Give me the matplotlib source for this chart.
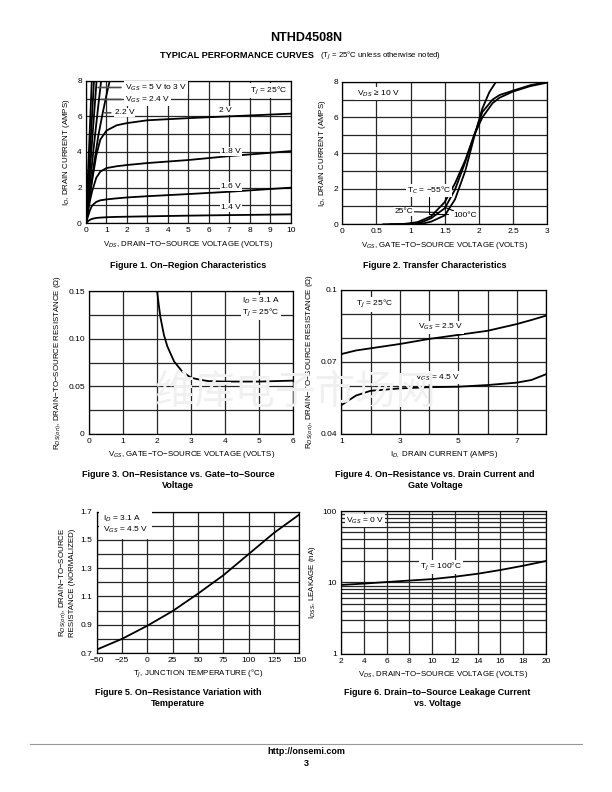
import numpy as np
import matplotlib.pyplot as plt
from matplotlib.ticker import MultipleLocator, FixedLocator, NullFormatter

plt.rcParams['font.family'] = ['Liberation Sans', 'DejaVu Sans']
plt.rcParams['axes.unicode_minus'] = True

# ---- data ----
# Fig 1: on-region characteristics
vds_sat = [0, 0.1, 0.2, 0.3, 0.5, 0.7, 1.0, 1.5, 2, 3, 5, 7, 10]
id_14 = [0, 0.12, 0.2, 0.25, 0.3, 0.32, 0.34, 0.36, 0.37, 0.39, 0.43, 0.46, 0.5]
id_16 = [0, 0.4, 0.75, 1.0, 1.2, 1.29, 1.34, 1.4, 1.45, 1.52, 1.64, 1.77, 2.0]
id_18 = [0, 0.7, 1.3, 1.8, 2.55, 2.9, 3.1, 3.2, 3.27, 3.38, 3.55, 3.77, 4.05]
id_20 = [0, 0.8, 1.6, 2.4, 3.8, 4.7, 5.2, 5.5, 5.62, 5.78, 5.9, 6.0, 6.15]
vds_22 = [0, 0.2, 0.4, 0.6, 0.8, 1.0, 1.2]
id_22 = [0, 1.7, 3.4, 4.9, 6.1, 7.2, 8.2]
vds_24 = [0, 0.2, 0.4, 0.6, 0.75]
id_24 = [0, 2.3, 4.5, 6.6, 8.1]
vds_30 = [0, 0.53]
id_30 = [0, 8.2]
vds_40 = [0, 0.4]
id_40 = [0, 8.2]
vds_50 = [0, 0.29]
id_50 = [0, 8.2]

# Fig 2: transfer characteristics
vgs_100 = [0.6, 0.9, 1.1, 1.3, 1.5, 1.65, 1.8, 1.93, 2.05, 2.2, 2.3, 2.5, 2.75, 3.0]
id_100 = [0, 0.02, 0.12, 0.45, 1.25, 2.3, 3.6, 5.0, 6.0, 6.8, 7.1, 7.45, 7.75, 7.95]
vgs_25 = [0.7, 1.0, 1.15, 1.3, 1.5, 1.65, 1.8, 1.93, 2.05, 2.2, 2.3, 2.5, 2.75, 3.0]
id_25 = [0, 0.02, 0.1, 0.34, 0.9, 1.95, 3.5, 5.0, 6.3, 7.0, 7.25, 7.5, 7.8, 7.98]
vgs_m55 = [0.9, 1.15, 1.3, 1.5, 1.65, 1.8, 1.93, 2.05, 2.15, 2.25]
id_m55 = [0, 0.02, 0.15, 0.5, 1.4, 3.0, 4.9, 6.5, 7.4, 8.0]

# Fig 3: Rds(on) vs Vgs
vgs_r = [2.0, 2.05, 2.1, 2.2, 2.3, 2.5, 2.75, 3.0, 3.25, 3.5, 4, 5, 6]
rds_vgs = [0.15, 0.135, 0.122, 0.104, 0.092, 0.076, 0.065, 0.059, 0.057, 0.0555, 0.055, 0.055, 0.056]

# Fig 4: Rds(on) vs Id
id_r = [1, 1.5, 2, 3, 4, 5, 6, 7, 7.5, 8]
rds_25v = [0.0733, 0.0748, 0.0757, 0.0775, 0.0796, 0.0813, 0.083, 0.0858, 0.0875, 0.0893]
rds_45v = [0.052, 0.056, 0.058, 0.059, 0.0595, 0.0597, 0.0604, 0.0614, 0.0625, 0.0649]

# Fig 5: normalized Rds(on) vs temperature
tj = [-50, -25, 0, 25, 50, 75, 100, 125, 150]
rds_norm = [0.724, 0.80, 0.893, 0.997, 1.12, 1.25, 1.40, 1.55, 1.68]

# Fig 6: leakage vs Vds
vds_l = [2, 4, 6, 8, 10, 12, 14, 16, 18, 20]
idss = [9.2, 9.6, 10.1, 10.6, 11.1, 12.0, 13.2, 14.9, 17.1, 19.9]

W, H = 612, 792
fig = plt.figure(figsize=(6.12, 7.92), dpi=100)

FS = 6      # annotation / tick text
FL = 5.7    # axis labels


def add_ax(x0, y0, x1, y1):
    ax = fig.add_axes([x0 / W, 1 - y1 / H, (x1 - x0) / W, (y1 - y0) / H])
    ax.patch.set_alpha(0)
    return ax


def style(ax):
    ax.set_axisbelow(True)
    ax.grid(True, which='both', color='0.15', lw=0.9)
    ax.tick_params(which='both', length=0, labelsize=FS, pad=3)
    for s in ax.spines.values():
        s.set_linewidth(0.9)


def label(ax, x, y, s, **kw):
    ax.text(x, y, s, fontsize=FS, ha='center', va='center', zorder=5,
            bbox=dict(facecolor='white', edgecolor='none', pad=0.8), **kw)


def fy(y):
    return 1 - y / H


lw = 1.3
bbox = dict(facecolor='white', edgecolor='none', pad=0.8)

# watermark (behind the transparent axes)
fig.text(295 / W, fy(392), '维库电子市场网', fontsize=29, color='#f0f0f0',
         family=['Noto Sans CJK SC'], weight='light', ha='center', va='center', zorder=0)

# ---------- Figure 1 ----------
ax1 = add_ax(86, 80.7, 290.7, 223.3)
for ids in [id_14, id_16, id_18, id_20]:
    ax1.plot(vds_sat, ids, color='k', lw=lw)
for v, i in [(vds_22, id_22), (vds_24, id_24), (vds_30, id_30), (vds_40, id_40), (vds_50, id_50)]:
    ax1.plot(v, i, color='k', lw=lw)
ax1.set_xlim(0, 10)
ax1.set_ylim(0, 8)
ax1.xaxis.set_major_locator(MultipleLocator(1))
ax1.yaxis.set_major_locator(MultipleLocator(2))
ax1.yaxis.set_minor_locator(MultipleLocator(1))
style(ax1)
ax1.annotate('V$_{GS}$ = 5 V to 3 V', xy=(0.45, 7.62), xytext=(1.9, 7.62), fontsize=FS,
             va='center', ha='left', bbox=bbox, zorder=5,
             arrowprops=dict(arrowstyle='-', color='0.3', lw=1.2))
ax1.annotate('V$_{GS}$ = 2.4 V', xy=(0.62, 6.95), xytext=(1.9, 6.95), fontsize=FS,
             va='center', ha='left', bbox=bbox, zorder=5,
             arrowprops=dict(arrowstyle='-', color='0.3', lw=1.2))
ax1.annotate('2.2 V', xy=(0.78, 6.2), xytext=(1.4, 6.2), fontsize=FS,
             va='center', ha='left', bbox=bbox, zorder=5,
             arrowprops=dict(arrowstyle='-', color='0.3', lw=1.2))
label(ax1, 6.8, 6.35, '2 V')
label(ax1, 7.1, 4.05, '1.8 V')
label(ax1, 7.1, 2.05, '1.6 V')
label(ax1, 7.1, 0.9, '1.4 V')
label(ax1, 8.9, 7.45, 'T$_J$ = 25°C')
ax1.set_xlabel('V$_{DS}$, DRAIN−TO−SOURCE VOLTAGE (VOLTS)', fontsize=FL, labelpad=3)
ax1.set_ylabel('I$_D$, DRAIN CURRENT (AMPS)', fontsize=FL, labelpad=4)

# ---------- Figure 2 ----------
ax2 = add_ax(342.3, 81.7, 547.3, 224.3)
for v, i in [(vgs_100, id_100), (vgs_25, id_25), (vgs_m55, id_m55)]:
    ax2.plot(v, i, color='k', lw=lw)
ax2.set_xlim(0, 3)
ax2.set_ylim(0, 8)
ax2.xaxis.set_major_locator(MultipleLocator(0.5))
ax2.xaxis.set_major_formatter(plt.FuncFormatter(lambda v, p: '%g' % v))
ax2.yaxis.set_major_locator(MultipleLocator(2))
ax2.yaxis.set_minor_locator(MultipleLocator(1))
style(ax2)
label(ax2, 0.52, 7.35, 'V$_{DS}$ ≥ 10 V')
ax2.annotate('T$_C$ = −55°C', xy=(1.55, 0.55), xytext=(1.27, 1.9), fontsize=FS,
             va='center', ha='center', bbox=bbox, zorder=5,
             arrowprops=dict(arrowstyle='-', color='k', lw=0.8, shrinkA=0, shrinkB=0,
                             connectionstyle='angle,angleA=90,angleB=0'))
ax2.annotate('25°C', xy=(1.42, 0.66), xytext=(0.9, 0.72), fontsize=FS,
             va='center', ha='center', bbox=bbox, zorder=5,
             arrowprops=dict(arrowstyle='-', color='k', lw=0.8, shrinkA=0, shrinkB=0))
ax2.annotate('100°C', xy=(1.5, 0.95), xytext=(1.8, 0.5), fontsize=FS,
             va='center', ha='center', bbox=bbox, zorder=5,
             arrowprops=dict(arrowstyle='-', color='k', lw=0.8, shrinkA=0, shrinkB=0))
ax2.set_xlabel('V$_{GS}$, GATE−TO−SOURCE VOLTAGE (VOLTS)', fontsize=FL, labelpad=3)
ax2.set_ylabel('I$_D$, DRAIN CURRENT (AMPS)', fontsize=FL, labelpad=4)

# ---------- Figure 3 ----------
ax3 = add_ax(89, 291, 293.3, 434)
ax3.plot(vgs_r, rds_vgs, color='k', lw=lw)
ax3.set_xlim(0, 6)
ax3.set_ylim(0, 0.15)
ax3.xaxis.set_major_locator(MultipleLocator(1))
ax3.yaxis.set_major_locator(FixedLocator([0, 0.05, 0.10, 0.15]))
ax3.yaxis.set_major_formatter(plt.FixedFormatter(['0', '0.05', '0.10', '0.15']))
ax3.yaxis.set_minor_locator(MultipleLocator(0.025))
style(ax3)
ax3.text(5.05, 0.133, 'I$_D$ = 3.1 A\nT$_J$ = 25°C', fontsize=FS, ha='center', va='center',
         linespacing=1.1, bbox=bbox, zorder=5)
ax3.set_xlabel('V$_{GS}$, GATE−TO−SOURCE VOLTAGE (VOLTS)', fontsize=FL, labelpad=3)
ax3.set_ylabel('R$_{DS(on)}$, DRAIN−TO−SOURCE RESISTANCE (Ω)', fontsize=FL, labelpad=3)

# ---------- Figure 4 ----------
ax4 = add_ax(341.3, 290, 546, 434)
ax4.plot(id_r, rds_25v, color='k', lw=lw)
ax4.plot(id_r, rds_45v, color='k', lw=lw)
ax4.set_xlim(1, 8)
ax4.set_ylim(0.04, 0.1)
ax4.xaxis.set_major_locator(FixedLocator([1, 3, 5, 7]))
ax4.xaxis.set_minor_locator(MultipleLocator(1))
ax4.yaxis.set_major_locator(FixedLocator([0.04, 0.07, 0.1]))
ax4.yaxis.set_major_formatter(plt.FixedFormatter(['0.04', '0.07', '0.1']))
ax4.yaxis.set_minor_locator(MultipleLocator(0.01))
style(ax4)
label(ax4, 2.12, 0.094, 'T$_J$ = 25°C')
label(ax4, 4.4, 0.0845, 'V$_{GS}$ = 2.5 V')
label(ax4, 4.3, 0.0635, 'V$_{GS}$ = 4.5 V')
ax4.set_xlabel('I$_{D,}$ DRAIN CURRENT (AMPS)', fontsize=FL, labelpad=3)
ax4.set_ylabel('R$_{DS(on)}$, DRAIN−TO−SOURCE RESISTANCE (Ω)', fontsize=FL, labelpad=3)

# ---------- Figure 5 ----------
ax5 = add_ax(96.7, 511.7, 299.3, 653)
ax5.plot(tj, rds_norm, color='k', lw=lw)
ax5.set_xlim(-50, 150)
ax5.set_ylim(0.7, 1.7)
ax5.xaxis.set_major_locator(MultipleLocator(25))
ax5.yaxis.set_major_locator(FixedLocator([0.7, 0.9, 1.1, 1.3, 1.5, 1.7]))
ax5.yaxis.set_minor_locator(MultipleLocator(0.1))
ax5.yaxis.set_major_formatter(plt.FuncFormatter(lambda v, p: '%.1f' % v))
ax5.xaxis.set_major_formatter(plt.FuncFormatter(lambda v, p: ('%d' % v).replace('-', '−')))
style(ax5)
ax5.text(-44, 1.61, 'I$_D$ = 3.1 A\nV$_{GS}$ = 4.5 V', fontsize=FS, ha='left', va='center',
         linespacing=1.1, zorder=5,
         bbox=dict(facecolor='white', edgecolor='none', pad=2.5))
ax5.set_xlabel('T$_J$, JUNCTION TEMPERATURE (°C)', fontsize=FL, labelpad=3)
ax5.set_ylabel('R$_{DS(on)}$, DRAIN−TO−SOURCE\nRESISTANCE (NORMALIZED)', fontsize=FL,
               labelpad=3, linespacing=1.0)

# ---------- Figure 6 ----------
ax6 = add_ax(341, 511, 546, 653.7)
ax6.plot(vds_l, idss, color='k', lw=lw)
ax6.set_yscale('log')
ax6.set_xlim(2, 20)
ax6.set_ylim(1, 100)
ax6.xaxis.set_major_locator(MultipleLocator(2))
ax6.yaxis.set_major_formatter(plt.FuncFormatter(lambda v, p: '%g' % v))
ax6.yaxis.set_minor_formatter(NullFormatter())
style(ax6)
label(ax6, 4.1, 73, 'V$_{GS}$ = 0 V')
label(ax6, 10.8, 16.6, 'T$_J$ = 100°C')
ax6.set_xlabel('V$_{DS}$, DRAIN−TO−SOURCE VOLTAGE (VOLTS)', fontsize=FL, labelpad=3)
ax6.set_ylabel('I$_{DSS}$, LEAKAGE (nA)', fontsize=FL, labelpad=3)

# ---------- page text ----------
fig.text(0.5, fy(38), 'NTHD4508N', fontsize=9, weight='bold', ha='center', va='center')
fig.text(160 / W, fy(56), 'TYPICAL PERFORMANCE CURVES', fontsize=6.6, weight='bold',
         ha='left', va='center')
fig.text(320 / W, fy(56), '(T$_J$ = 25°C unless otherwise noted)', fontsize=5.6,
         ha='left', va='center')

caps = [(188, 265, 'Figure 1. On−Region Characteristics'),
        (435, 265, 'Figure 2. Transfer Characteristics'),
        (178, 480, 'Figure 3. On−Resistance vs. Gate−to−Source\nVoltage'),
        (435, 480, 'Figure 4. On−Resistance vs. Drain Current and\nGate Voltage'),
        (178, 698, 'Figure 5. On−Resistance Variation with\nTemperature'),
        (437, 698, 'Figure 6. Drain−to−Source Leakage Current\nvs. Voltage')]
for x, y, s in caps:
    fig.text(x / W, fy(y), s, fontsize=6.5, weight='bold', ha='center', va='center',
             linespacing=1.3)

fig.add_artist(plt.Line2D([30 / W, 582 / W], [fy(744), fy(744)], color='0.6', lw=0.8))
fig.text(0.5, fy(752), 'http://onsemi.com', fontsize=6.5, weight='bold', ha='center', va='center')
fig.text(0.5, fy(763), '3', fontsize=6.5, weight='bold', ha='center', va='center')

fig.savefig('out.png', dpi=100)
